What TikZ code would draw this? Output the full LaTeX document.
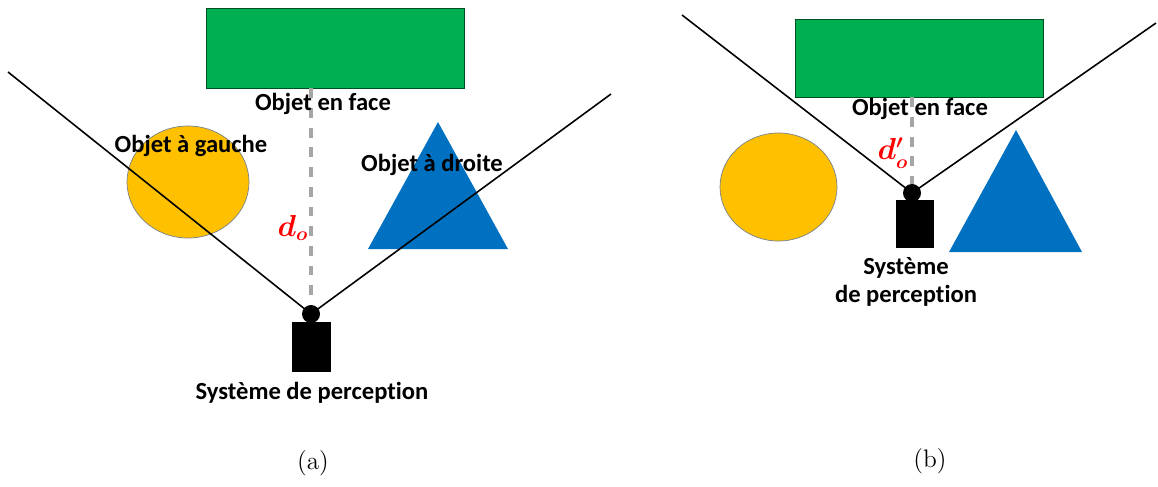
\documentclass[tikz,border=0pt]{standalone}
\usepackage{tikz}
\usetikzlibrary{shapes.geometric, positioning}
\usepackage{xcolor}
\usepackage{amsmath}
\usepackage{fontspec}
\newfontfamily\calib{Carlito}[Ligatures=NoCommon]
\definecolor{facegreen}{RGB}{0, 176, 80}
\definecolor{leftyellow}{RGB}{255, 192, 0}
\definecolor{rightblue}{RGB}{0, 112, 192}
\definecolor{distgray}{RGB}{166, 166, 166}
\definecolor{distred}{RGB}{255, 0, 0}
\definecolor{edgegray}{RGB}{120, 130, 140}

\begin{document}
\begin{tikzpicture}[
    objface/.style={rectangle, draw=facegreen!45!black, line width=0.5pt, fill=facegreen, inner sep=0pt},
    objleft/.style={ellipse, draw=edgegray, line width=0.4pt, fill=leftyellow, inner sep=0pt},
    objright/.style={fill=rightblue},
    sensor/.style={rectangle, fill=black, inner sep=0pt},
    lens/.style={circle, fill=black, inner sep=0pt, minimum size=0.36cm},
    viewline/.style={line width=0.9pt, color=black},
    dist/.style={line width=1.8pt, color=distgray, dash pattern=on 5.6pt off 5.6pt},
    lbl/.style={font=\calib\bfseries\fontsize{14}{16}\selectfont, align=center, text=black, inner sep=0pt},
    dlbl/.style={font=\fontsize{16}{18}\selectfont\boldmath, text=distred, inner sep=0pt},
    sublbl/.style={font=\fontsize{14.4}{17}\selectfont, inner sep=0pt},
]
\useasboundingbox (0,0) rectangle (23.16,-9.72);

% ---- Panel (a) ----
\node[objface, minimum width=5.16cm, minimum height=1.6cm] (facea) at (6.70, -0.96) {};
\node[objleft, minimum width=2.44cm, minimum height=2.24cm] (lefta) at (3.76, -3.64) {};
\fill[objright] (7.36, -4.98) -- (8.76, -2.44) -- (10.16, -4.98) -- cycle;

\coordinate (eyea) at (6.22, -6.28);

% field of view
\coordinate (fovla) at (0.16, -1.44);
\coordinate (fovra) at (12.22, -1.88);
\draw[viewline] (fovla) -- (eyea) -- (fovra);

% distance to front object
\draw[dist] (eyea |- facea.south) -- (eyea);

\node[lens] (lensa) at (eyea) {};
\node[sensor, minimum width=0.78cm, minimum height=1.0cm] (sensora) at (6.23, -6.94) {};

\node[lbl] (facelbla) at (6.46, -2.08) {Objet en face};
\node[lbl] (leftlbla) at (3.82, -2.92) {Objet à gauche};
\node[lbl] (rightlbla) at (8.64, -3.30) {Objet à droite};
\node[lbl] (senslbla) at (6.24, -7.86) {Système de perception};
\node[dlbl] (da) at (5.86, -4.56) {$d_o$};
\node[sublbl] (capa) at (6.26, -9.26) {(a)};

% ---- Panel (b) ----
\node[objface, minimum width=4.96cm, minimum height=1.56cm] (faceb) at (18.38, -1.16) {};
\node[objleft, minimum width=2.34cm, minimum height=2.16cm] (leftb) at (15.57, -3.74) {};
\fill[objright] (18.98, -5.04) -- (20.32, -2.60) -- (21.64, -5.04) -- cycle;

\coordinate (eyeb) at (18.24, -3.86);

% field of view
\coordinate (fovlb) at (13.64, -0.30);
\coordinate (fovrb) at (23.12, -0.46);
\draw[viewline] (fovlb) -- (eyeb) -- (fovrb);

% distance to front object
\draw[dist] (eyeb |- faceb.south) -- (eyeb);

\node[lens] (lensb) at (eyeb) {};
\node[sensor, minimum width=0.76cm, minimum height=0.96cm] (sensorb) at (18.30, -4.48) {};

\node[lbl] (facelblb) at (18.40, -2.18) {Objet en face};
\node[lbl] (senslblb) at (18.12, -5.64) {Système\\de perception};
\node[dlbl] (db) at (17.86, -3.06) {$d'_o$};
\node[sublbl] (capb) at (18.60, -9.22) {(b)};

\end{tikzpicture}
\end{document}
